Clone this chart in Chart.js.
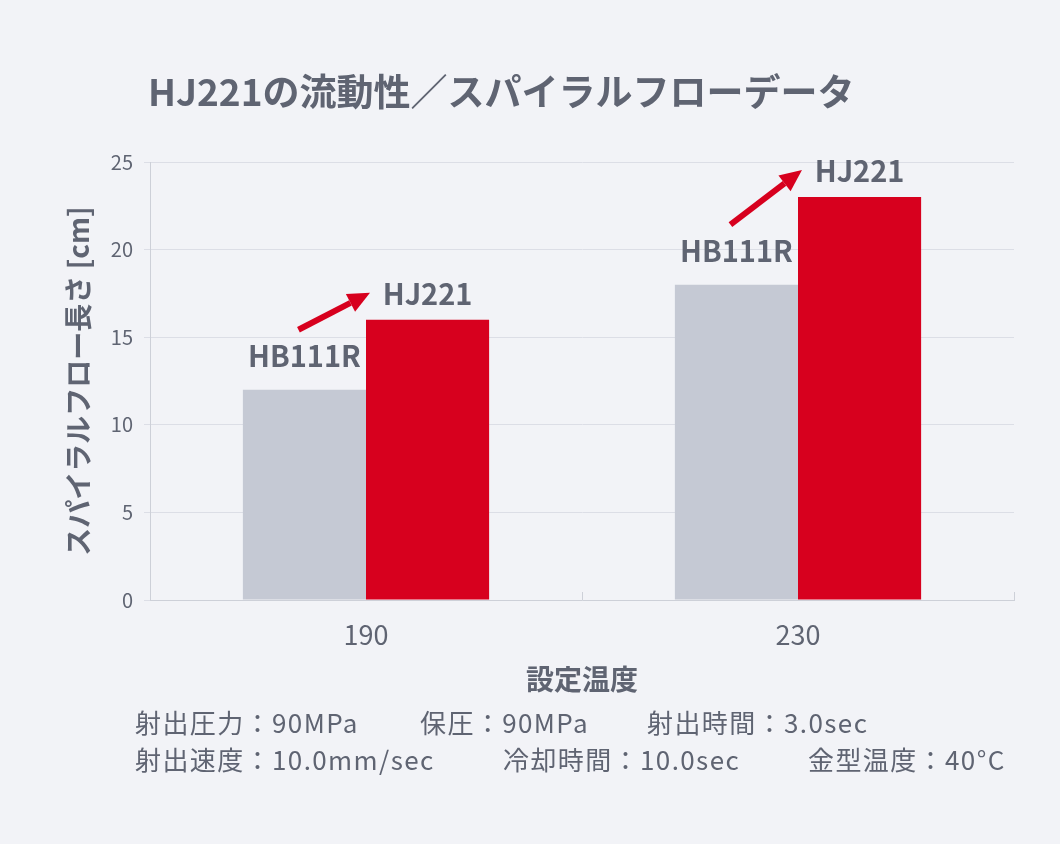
<!DOCTYPE html>
<html lang="ja">
<head>
<meta charset="utf-8">
<script src="https://cdn.jsdelivr.net/npm/chart.js@4.4.1/dist/chart.umd.min.js"></script>
<style>
html, body { margin: 0; padding: 0; background: #f2f3f7; }
#wrap { position: relative; width: 1060px; height: 844px; overflow: hidden;
        font-family: "Noto Sans CJK JP", "Noto Sans", sans-serif; color: #5f6472; }
#title { position: absolute; left: 148px; top: 65px; font-size: 37px; font-weight: 700;
         line-height: 50px; white-space: nowrap; }
.note { position: absolute; font-size: 26px; line-height: 30px; letter-spacing: 1.4px; white-space: nowrap; }
canvas { position: absolute; left: 0; top: 0; }
</style>
</head>
<body>
<div id="wrap">
  <canvas id="chart" width="1060" height="844"></canvas>
  <div id="title">HJ221の流動性／スパイラルフローデータ</div>
</div>
<script>
// データ
const categories = ['190', '230'];
const seriesNames = ['HB111R', 'HJ221'];
const hb111r = [12, 18];
const hj221 = [16, 23];
const yTitle = 'スパイラルフロー長さ [cm]';
const xTitle = '設定温度';
const notesLine1 = ['射出圧力：90MPa', '保圧：90MPa', '射出時間：3.0sec'];
const notesLine2 = ['射出速度：10.0mm/sec', '冷却時間：10.0sec', '金型温度：40°C'];

const textColor = '#5f6472';
const grayBar = '#c5c9d4';
const redBar = '#d7001e';
const fontFamily = '"Noto Sans CJK JP", "Noto Sans", sans-serif';

// 注記
const wrap = document.getElementById('wrap');
const noteX1 = [135, 420, 647];
const noteX2 = [135, 503, 808];
function addNotes(list, xs, top) {
    list.forEach((t, i) => {
        const d = document.createElement('div');
        d.className = 'note';
        d.textContent = t;
        d.style.left = xs[i] + 'px';
        d.style.top = top + 'px';
        wrap.appendChild(d);
    });
}
addNotes(notesLine1, noteX1, 707);
addNotes(notesLine2, noteX2, 744);

// 矢印
function drawArrow(ctx, x1, y1, x2, y2) {
    const ang = Math.atan2(y2 - y1, x2 - x1);
    const head = 22, half = 10;
    const bx = x2 - head * Math.cos(ang), by = y2 - head * Math.sin(ang);
    ctx.save();
    ctx.strokeStyle = redBar;
    ctx.fillStyle = redBar;
    ctx.lineWidth = 6;
    ctx.beginPath();
    ctx.moveTo(x1, y1);
    ctx.lineTo(bx, by);
    ctx.stroke();
    ctx.beginPath();
    ctx.moveTo(x2, y2);
    ctx.lineTo(bx + half * Math.sin(ang), by - half * Math.cos(ang));
    ctx.lineTo(bx - half * Math.sin(ang), by + half * Math.cos(ang));
    ctx.closePath();
    ctx.fill();
    ctx.restore();
}

// 棒の上のラベルと矢印
const barLabels = {
    id: 'barLabels',
    afterDatasetsDraw(chart) {
        const ctx = chart.ctx;
        const m0 = chart.getDatasetMeta(0);
        const m1 = chart.getDatasetMeta(1);
        ctx.save();
        ctx.font = 'bold 29px ' + fontFamily;
        ctx.fillStyle = textColor;
        ctx.textAlign = 'center';
        ctx.textBaseline = 'middle';
        categories.forEach((c, i) => {
            const g = m0.data[i], r = m1.data[i];
            const gy = g.y - 34, ry = r.y - 26;
            ctx.fillText(seriesNames[0], g.x, gy);
            ctx.fillText(seriesNames[1], r.x, ry);
            drawArrow(ctx, g.x - 6, gy - 26, r.x - r.width / 2 + 4, ry - 1);
        });
        ctx.restore();
    }
};

// カテゴリ境界の短い目盛り
const catTicks = {
    id: 'catTicks',
    afterDraw(chart) {
        const x = chart.scales.x, area = chart.chartArea, ctx = chart.ctx;
        ctx.save();
        ctx.strokeStyle = '#cdd0d8';
        ctx.lineWidth = 1;
        for (let i = 0; i <= categories.length; i++) {
            const px = Math.round(x.getPixelForValue(i - 0.5)) + 0.5;
            ctx.beginPath();
            ctx.moveTo(px, area.bottom - 8);
            ctx.lineTo(px, area.bottom);
            ctx.stroke();
        }
        ctx.restore();
    }
};

new Chart(document.getElementById('chart'), {
    type: 'bar',
    data: {
        labels: categories,
        datasets: [
            { label: seriesNames[0], data: hb111r, backgroundColor: grayBar },
            { label: seriesNames[1], data: hj221, backgroundColor: redBar }
        ]
    },
    options: {
        responsive: false,
        animation: false,
        layout: { padding: { left: 60, right: 46, top: 162, bottom: 132 } },
        plugins: { legend: { display: false }, tooltip: { enabled: false } },
        datasets: { bar: { categoryPercentage: 0.57, barPercentage: 1 } },
        scales: {
            x: {
                afterFit: (s) => { s.height = 112; },
                grid: { display: true, drawOnChartArea: false, drawTicks: false },
                border: { color: '#cdd0d8' },
                ticks: { color: textColor, padding: 19, font: { family: fontFamily, size: 27 } },
                title: {
                    display: true, text: xTitle, color: textColor,
                    padding: { top: 0, bottom: 16 },
                    font: { family: fontFamily, size: 28, weight: 'bold' }
                }
            },
            y: {
                min: 0, max: 25,
                afterFit: (s) => { s.width = 90; },
                grid: { color: '#dcdee6', tickLength: 6 },
                border: { color: '#cdd0d8' },
                ticks: { stepSize: 5, color: textColor, padding: 11, font: { family: fontFamily, size: 20 } },
                title: {
                    display: true, text: yTitle, color: textColor,
                    padding: { top: 2, bottom: 0 },
                    font: { family: fontFamily, size: 28, weight: 'bold' }
                }
            }
        }
    },
    plugins: [barLabels, catTicks]
});
</script>
</body>
</html>
